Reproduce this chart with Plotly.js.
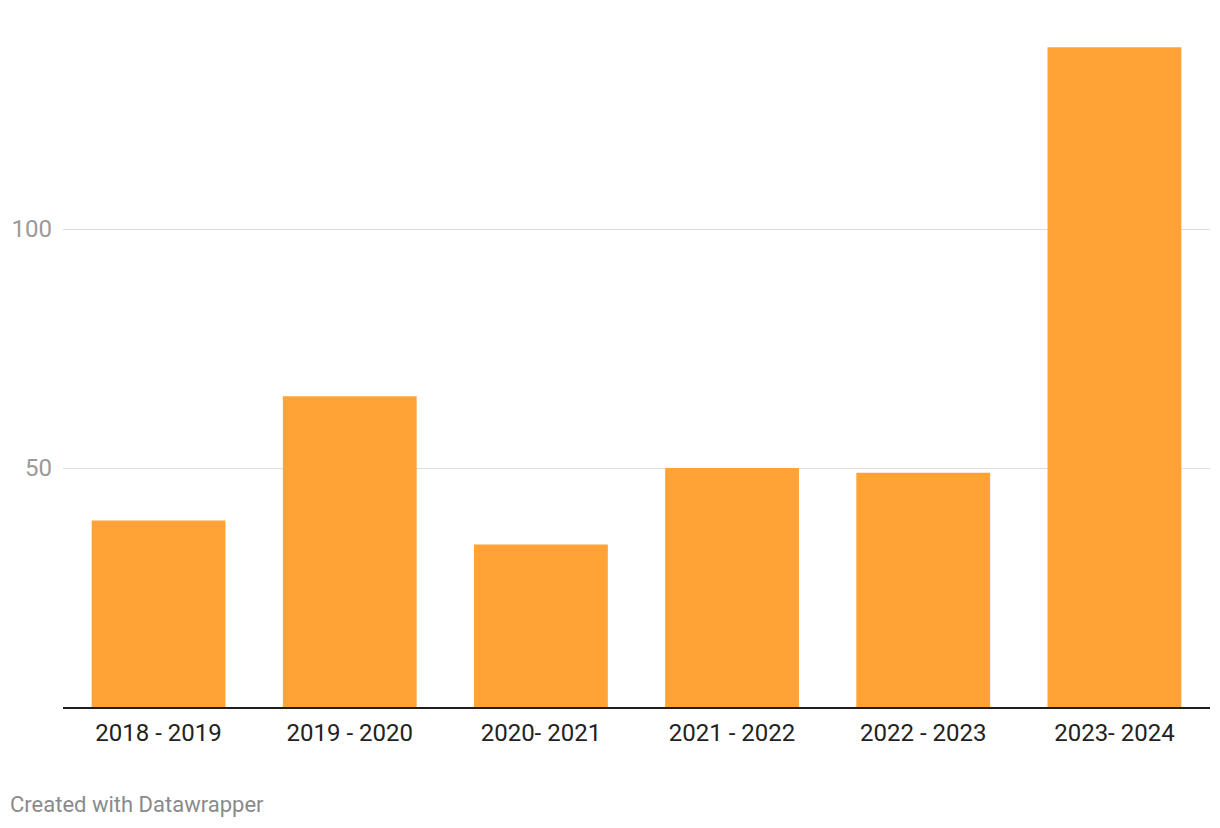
<!DOCTYPE html>
<html>
<head>
<meta charset="utf-8">
<script src="https://cdn.plot.ly/plotly-3.0.1.min.js"></script>
<style>html,body{margin:0;padding:0;background:#fff;}#chart{width:1220px;height:828px;}</style>
</head>
<body>
<div id="chart"></div>
<script>
const categories = ["2018 - 2019", "2019 - 2020", "2020- 2021", "2021 - 2022", "2022 - 2023", "2023- 2024"];
const values = [39, 65, 34, 50, 49, 138];
const yTickVals = [50, 100];
const yTickText = ["50", "100"];
const footerText = "Created with Datawrapper";

const W = 1220, H = 828;
const plotL = 63, plotR = 1210, plotT = 10, plotB = 707;

const trace = {
  type: "bar",
  x: categories,
  y: values,
  marker: { color: "#ffa337", line: { width: 0 } },
  hoverinfo: "x+y"
};

const layout = {
  width: W, height: H,
  margin: { l: plotL, r: W - plotR, t: plotT, b: H - plotB, pad: 0 },
  paper_bgcolor: "#ffffff",
  plot_bgcolor: "#ffffff",
  font: { family: "Roboto, sans-serif" },
  bargap: 0.3,
  showlegend: false,
  xaxis: {
    type: "category",
    showline: true, linecolor: "#1e1e1e", linewidth: 2,
    showgrid: false, zeroline: false,
    ticks: "",
    tickfont: { size: 24, color: "#222222" },
    ticklabelstandoff: 3
  },
  yaxis: {
    range: [0, (plotB - plotT) * 50 / 239],
    tickvals: yTickVals,
    ticktext: yTickText,
    showgrid: true, gridcolor: "#dddddd", gridwidth: 1,
    zeroline: false, showline: false,
    ticks: "",
    tickfont: { size: 24, color: "#9a9a9a" },
    ticklabelstandoff: 10
  },
  annotations: [{
    text: footerText,
    xref: "paper", yref: "paper",
    x: (8 - plotL) / (plotR - plotL),
    y: (plotB - 804) / (plotB - plotT),
    xanchor: "left", yanchor: "middle",
    showarrow: false,
    font: { size: 22, color: "#8a8a8a", family: "Roboto, sans-serif" }
  }]
};

Plotly.newPlot("chart", [trace], layout, { displayModeBar: false, staticPlot: true });
</script>
</body>
</html>
